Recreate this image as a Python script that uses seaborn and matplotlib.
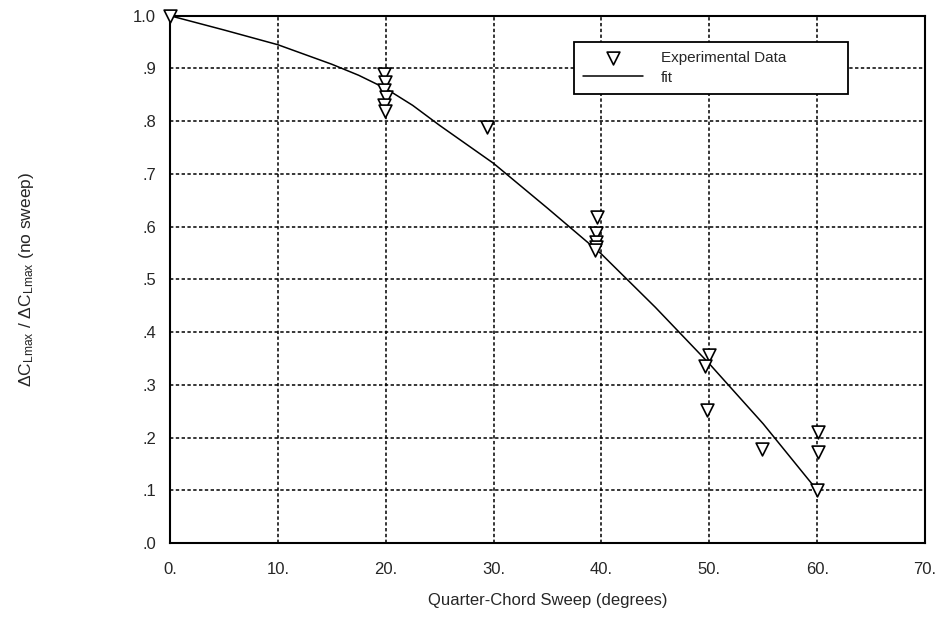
import numpy as np
import pandas as pd
import seaborn as sns

import matplotlib
matplotlib.use('Agg')
import matplotlib.pyplot as plt

# experimental points
sweep_deg = [0.0, 19.8, 19.9, 19.8, 20.0, 19.8, 19.9, 29.4,
             39.6, 39.5, 39.5, 39.5, 39.4, 50.0, 49.6, 49.8, 54.9,
             60.1, 60.1, 60.0]
ratio = [1.0, 0.89, 0.875, 0.86, 0.845, 0.83, 0.82, 0.789,
         0.619, 0.587, 0.571, 0.562, 0.556, 0.356, 0.335, 0.253, 0.179,
         0.21, 0.172, 0.10]

# fit curve sampled from the chart
fit_x = [0, 5, 10, 15, 17.5, 20, 22.5, 25, 30, 35, 40, 45, 50, 55, 60]
fit_y = [1.0, 0.973, 0.945, 0.908, 0.887, 0.862, 0.83, 0.792, 0.72,
         0.635, 0.548, 0.447, 0.34, 0.226, 0.10]

x_ticks = [0, 10, 20, 30, 40, 50, 60, 70]
x_labels = ['0.', '10.', '20.', '30.', '40.', '50.', '60.', '70.']
y_ticks = [0.0, 0.1, 0.2, 0.3, 0.4, 0.5, 0.6, 0.7, 0.8, 0.9, 1.0]
y_labels = ['.0', '.1', '.2', '.3', '.4', '.5', '.6', '.7', '.8', '.9', '1.0']

sns.set_style('white')
plt.rcParams['font.family'] = ['Liberation Sans', 'DejaVu Sans']
plt.rcParams['mathtext.fontset'] = 'custom'
plt.rcParams['mathtext.rm'] = 'Liberation Sans'
plt.rcParams['mathtext.it'] = 'Liberation Sans'

df_pts = pd.DataFrame({'sweep': sweep_deg, 'ratio': ratio})
df_fit = pd.DataFrame({'sweep': fit_x, 'ratio': fit_y})

fig = plt.figure(figsize=(9.35, 6.19), dpi=100)
ax = fig.add_axes([0.1818, 0.1228, 0.8075, 0.8518])

sns.lineplot(data=df_fit, x='sweep', y='ratio', ax=ax, color='black',
             linewidth=1.1, label='fit', zorder=3)
sns.scatterplot(data=df_pts, x='sweep', y='ratio', ax=ax, marker='v',
                s=85, facecolor='white', edgecolor='black', linewidth=1.2,
                label='Experimental Data', zorder=4, clip_on=False)

ax.set_xlim(0, 70)
ax.set_ylim(0, 1.0)
ax.set_xticks(x_ticks)
ax.set_xticklabels(x_labels)
ax.set_yticks(y_ticks)
ax.set_yticklabels(y_labels)
ax.tick_params(axis='x', labelsize=12, length=0, pad=14)
ax.tick_params(axis='y', labelsize=12, length=0, pad=10)

ax.grid(True, color='black', linestyle=(0, (2.2, 1.6)), linewidth=1.1)
for sp in ax.spines.values():
    sp.set_color('black')
    sp.set_linewidth(1.5)

ax.set_xlabel('Quarter-Chord Sweep (degrees)', fontsize=12, labelpad=11)
ax.set_ylabel(r'$\mathregular{\Delta C_{Lmax}\ /\ \Delta C_{Lmax}}$ (no sweep)',
              fontsize=12.5, labelpad=70)

# legend: data first, then fit
h, l = ax.get_legend_handles_labels()
order = [l.index('Experimental Data'), l.index('fit')]
leg = ax.legend([h[i] for i in order], [l[i] for i in order],
                loc='upper left', bbox_to_anchor=(0.535, 0.95, 0.363, 0.0),
                mode='expand', fontsize=11, frameon=True, fancybox=False,
                shadow=False, handlelength=3.9, borderpad=0.6,
                labelspacing=0.35, handletextpad=1.2, borderaxespad=0)
leg.get_frame().set_edgecolor('black')
leg.get_frame().set_linewidth(1.3)
leg.get_frame().set_alpha(1)

fig.savefig('out.png', dpi=100)
